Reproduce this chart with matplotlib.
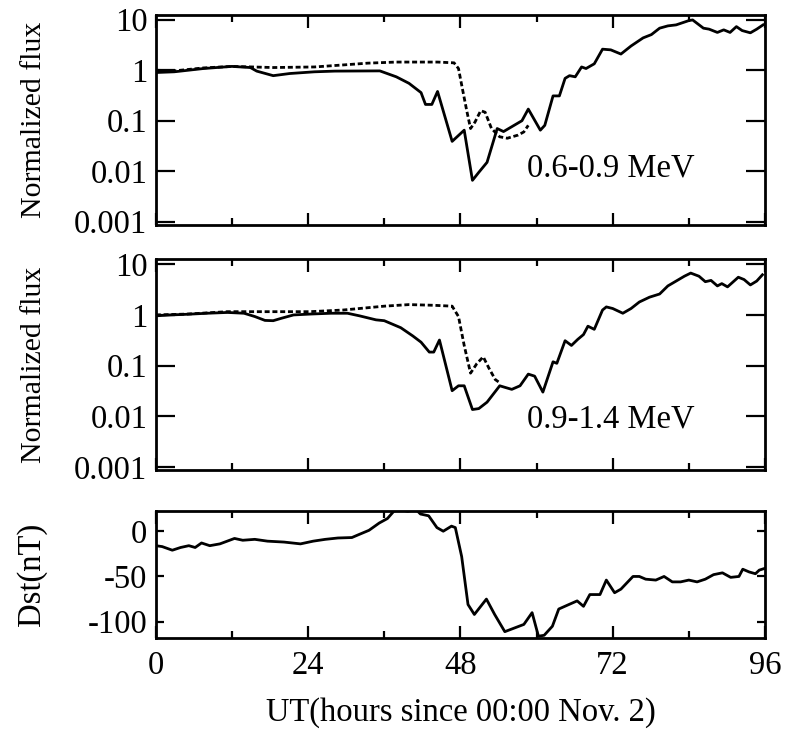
import numpy as np
import matplotlib as mpl
mpl.use('Agg')
import matplotlib.pyplot as plt
from matplotlib.ticker import LogLocator, MultipleLocator, NullFormatter

plt.rcParams['font.family'] = ['Liberation Serif', 'DejaVu Serif']
plt.rcParams['axes.unicode_minus'] = False

# 0.6-0.9 MeV, solid (one satellite) and dashed (other)
hours_a = [0, 2.9, 7.5, 12.0, 14.9, 15.9, 18.5, 21.1, 25.0, 28.2, 35.3, 37.9, 39.9, 41.8, 42.5, 43.5,
           44.4, 46.7, 48.6, 49.9, 50.9, 52.2, 53.8, 54.8, 57.7, 58.7, 60.6, 61.3, 62.6, 63.6, 64.5,
           65.2, 66.1, 67.1, 67.8, 69.1, 70.4, 71.7, 73.3, 74.9, 76.8, 78.1, 79.4, 80.7, 82.0, 84.0,
           84.6, 86.3, 87.2, 88.5, 89.5, 90.5, 91.5, 92.4, 93.7, 94.7, 95.7]
flux_a = [0.90, 0.93, 1.08, 1.19, 1.13, 0.96, 0.78, 0.86, 0.93, 0.96, 0.97, 0.74, 0.55, 0.36, 0.21, 0.21,
          0.38, 0.039, 0.065, 0.0066, 0.0095, 0.015, 0.070, 0.061, 0.10, 0.17, 0.065, 0.081, 0.31, 0.31, 0.69,
          0.78, 0.74, 1.16, 1.08, 1.34, 2.61, 2.53, 2.09, 3.02, 4.37, 5.07, 6.8, 7.55, 7.9, 9.6,
          9.9, 6.8, 6.5, 5.6, 6.3, 5.6, 7.3, 6.1, 5.5, 6.5, 7.9]
hours_a2 = [0, 2.9, 7.5, 12.0, 15.2, 18.5, 25.0, 30.2, 33.4, 37.9, 44.4, 47.0, 47.7, 48.3, 49.0, 49.6,
            50.3, 51.2, 51.9, 52.9, 54.2, 55.4, 57.1, 58.0, 58.7]
flux_a2 = [1.0, 0.97, 1.11, 1.19, 1.16, 1.13, 1.16, 1.29, 1.38, 1.45, 1.45, 1.40, 1.08, 0.44, 0.158, 0.070,
           0.094, 0.158, 0.147, 0.070, 0.048, 0.045, 0.052, 0.060, 0.081]

# 0.9-1.4 MeV
hours_b = [0, 2.3, 4.9, 8.1, 11.3, 13.9, 15.6, 17.2, 18.5, 19.8, 21.7, 24.3, 27.6, 30.2, 32.1, 34.7,
           36.0, 38.6, 40.5, 41.8, 43.1, 43.8, 44.7, 46.7, 47.7, 48.6, 49.9, 50.9, 52.2, 54.2, 55.1,
           56.1, 57.4, 58.7, 59.7, 61.0, 62.6, 63.2, 64.5, 65.5, 66.5, 67.4, 68.1, 69.1, 70.4, 71.0,
           72.0, 73.6, 74.9, 76.2, 77.8, 79.4, 80.7, 82.0, 83.3, 84.3, 85.6, 86.6, 87.5, 88.5, 89.2,
           90.1, 91.8, 92.7, 93.7, 94.7, 95.6]
flux_b = [0.96, 1.0, 1.03, 1.08, 1.12, 1.08, 0.93, 0.78, 0.77, 0.86, 1.0, 1.04, 1.08, 1.08, 0.96, 0.80,
          0.77, 0.56, 0.385, 0.29, 0.185, 0.185, 0.32, 0.032, 0.040, 0.040, 0.0136, 0.0142, 0.019, 0.040, 0.037,
          0.034, 0.040, 0.068, 0.062, 0.030, 0.119, 0.111, 0.31, 0.25, 0.33, 0.41, 0.60, 0.52, 1.25, 1.44,
          1.34, 1.08, 1.34, 1.80, 2.24, 2.59, 3.74, 4.66, 5.81, 6.7, 5.81, 4.53, 4.80, 3.74, 4.15,
          3.58, 5.55, 5.0, 3.91, 4.66, 6.2]
hours_b2 = [0, 4.9, 11.3, 17.8, 24.3, 29.5, 32.1, 36.0, 39.9, 43.8, 46.7, 47.7, 48.6, 49.6, 50.6, 51.6,
            52.5, 53.5, 54.2]
flux_b2 = [1.0, 1.04, 1.16, 1.16, 1.16, 1.25, 1.34, 1.49, 1.6, 1.55, 1.49, 0.93, 0.25, 0.071, 0.11, 0.149,
           0.089, 0.053, 0.046]

# Dst index
hours_dst = [0, 1.0, 2.6, 3.9, 5.2, 6.2, 7.2, 8.5, 10.1, 12.4, 13.7, 15.6, 17.6, 20.2, 22.8, 24.8,
             26.7, 28.7, 30.9, 31.9, 33.6, 35.2, 36.5, 37.5, 38.4, 39.7, 41.0, 41.7, 43.0, 44.3, 45.3,
             46.6, 47.2, 48.2, 49.2, 50.2, 52.1, 53.4, 55.0, 58.0, 59.3, 60.3, 61.2, 62.5, 63.5, 65.1,
             66.4, 67.4, 68.4, 70.0, 71.0, 72.3, 73.3, 75.2, 76.2, 77.2, 78.8, 80.1, 81.4, 82.7, 84.0,
             85.3, 86.6, 87.9, 89.3, 90.6, 91.9, 92.5, 93.5, 94.5, 95.1, 96.0]
dst = [-16, -17, -21, -18, -16, -18, -13, -16, -14, -8, -10, -9, -11, -12, -14, -11,
       -9, -7.5, -7, -4, 1, 9, 14, 22, 24, 22, 24, 19, 17, 4, 0,
       5.6, 4, -28, -81, -92, -75, -92, -111, -103, -90, -116, -115, -105, -86, -81,
       -77, -83, -70, -70, -54, -68, -64, -50, -50, -53, -54, -50, -56, -56, -54,
       -56, -53, -48, -46, -51, -50, -42, -45, -47, -43, -41]

fig = plt.figure(figsize=(7.87, 7.41), dpi=100)
ax1 = fig.add_axes([0.198, 0.697, 0.774, 0.283])
ax2 = fig.add_axes([0.198, 0.366, 0.774, 0.284])
ax3 = fig.add_axes([0.198, 0.139, 0.774, 0.171])

lw = 2.0
fs = 23.5
fs_lab = 21.5

for ax, h, f, h2, f2, label in [(ax1, hours_a, flux_a, hours_a2, flux_a2, '0.6-0.9 MeV'),
                                (ax2, hours_b, flux_b, hours_b2, flux_b2, '0.9-1.4 MeV')]:
    ax.plot(h, f, color='black', lw=lw)
    ax.plot(h2, f2, color='black', lw=lw, linestyle=(0, (1.8, 1.0)))
    ax.set_yscale('log')
    ax.set_ylim(0.00088, 12.5)
    ax.set_yticks([0.001, 0.01, 0.1, 1, 10])
    ax.set_yticklabels(['0.001', '0.01', '0.1', '1', '10'])
    ax.yaxis.set_minor_locator(LogLocator(base=10, subs=np.arange(2, 10)))
    ax.yaxis.set_minor_formatter(NullFormatter())
    ax.set_ylabel('Normalized flux', fontsize=fs_lab)
    ax.set_xticklabels([])
    ax.text(58.5, 0.0115 if ax is ax1 else 0.0088, label, fontsize=fs, ha='left', va='center')

ax3.plot(hours_dst, dst, color='black', lw=lw)
ax3.set_ylim(-118, 22)
ax3.set_yticks([0, -50, -100])
ax3.set_ylabel('Dst(nT)', fontsize=fs)
ax3.set_xlabel('UT(hours since 00:00 Nov. 2)', fontsize=fs, labelpad=12)

for ax in (ax1, ax2, ax3):
    ax.set_xlim(0, 96)
    ax.xaxis.set_major_locator(MultipleLocator(24))
    ax.xaxis.set_minor_locator(MultipleLocator(12))
    ax.tick_params(which='both', direction='in', top=True, right=True, labelsize=fs, width=1.6)
    ax.tick_params(which='major', length=9, pad=6)
    ax.tick_params(which='minor', length=5)
    ax.tick_params(axis='x', which='major', pad=9)
    for s in ax.spines.values():
        s.set_linewidth(2.0)
    ax.yaxis.set_label_coords(-0.178, 0.5)

ax1.tick_params(axis='y', which='major', length=14)
ax2.tick_params(axis='y', which='major', length=14)
ax3.tick_params(axis='y', which='major', length=6)

fig.savefig('out.png', dpi=100)
